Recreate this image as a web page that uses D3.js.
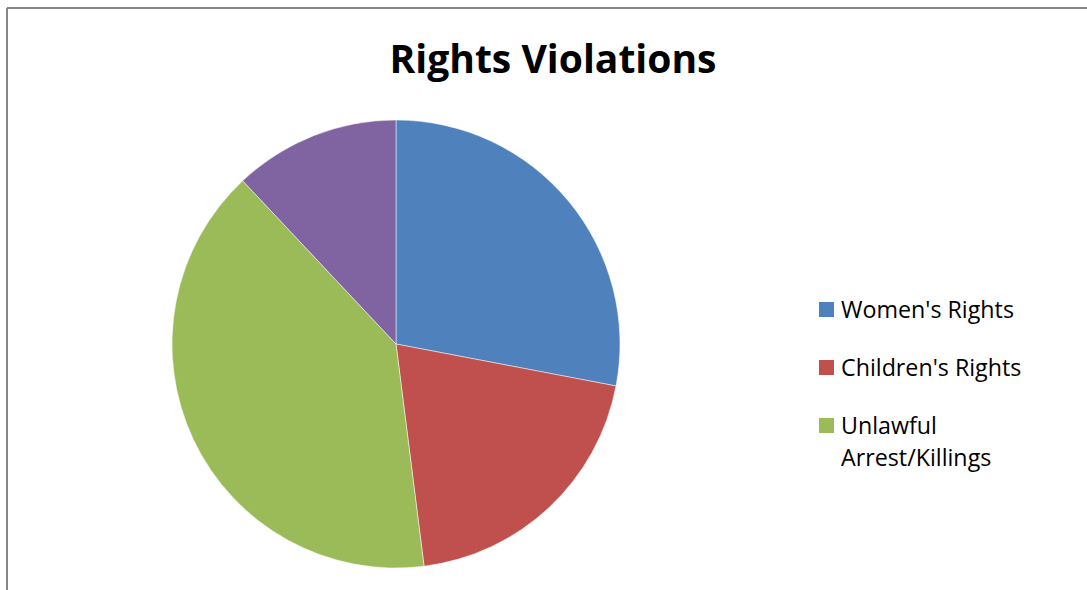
<!DOCTYPE html>
<html><head><meta charset="utf-8">
<script src="https://cdn.jsdelivr.net/npm/d3@7"></script>
<style>body{margin:0;background:#fff}svg{display:block}</style>
</head><body>
<svg id="c" width="1087" height="590"></svg>
<script>
const categories = ["Women's Rights", "Children's Rights", "Unlawful Arrest/Killings", "Other"];
const values = [28, 20, 40, 12];
const colors = ["#4F81BD", "#C0504D", "#9BBB59", "#8064A2"];
const legendLines = [["Women's Rights"], ["Children's Rights"], ["Unlawful", "Arrest/Killings"]];
const title = "Rights Violations";

const svg = d3.select("#c");
const font = "'Open Sans', Lato, sans-serif";

function fitWidth(sel, target) {
  const w = sel.node().getComputedTextLength();
  const fs = parseFloat(sel.attr("font-size"));
  sel.attr("font-size", (fs * target / w).toFixed(2));
}

// frame
svg.append("line").attr("x1", 7).attr("y1", 8).attr("x2", 1087).attr("y2", 8)
  .attr("stroke", "#868686").attr("stroke-width", 2);
svg.append("line").attr("x1", 7).attr("y1", 8).attr("x2", 7).attr("y2", 590)
  .attr("stroke", "#868686").attr("stroke-width", 2);

const t = svg.append("text").attr("x", 553).attr("y", 73).attr("text-anchor", "middle")
  .attr("font-family", font).attr("font-weight", "bold").attr("font-size", 36)
  .attr("fill", "#000").text(title);
fitWidth(t, 327);

const data = categories.map((c, i) => ({c, v: values[i], col: colors[i]}));
const pie = d3.pie().sort(null).value(d => d.v);
const arc = d3.arc().innerRadius(0).outerRadius(224);
const g = svg.append("g").attr("transform", "translate(396,344)");
g.selectAll("path").data(pie(data)).join("path")
  .attr("d", arc).attr("fill", d => d.data.col)
  .attr("stroke", "#fff").attr("stroke-width", 0.5);

const lg = svg.append("g");
const legY = d3.scaleLinear().domain([0, 1]).range([302, 360]);
// size legend font so first label spans ~173px
const probe = lg.append("text").attr("font-family", font).attr("font-size", 20).text(legendLines[0][0]);
fitWidth(probe, 173);
const lfs = probe.attr("font-size");
probe.remove();
legendLines.forEach((lines, i) => {
  const y = legY(i);
  lg.append("rect").attr("x", 819).attr("y", y).attr("width", 15).attr("height", 15).attr("fill", colors[i]);
  lines.forEach((tx, j) => {
    lg.append("text").attr("x", 841).attr("y", y + 16 + j * 32)
      .attr("font-family", font).attr("font-size", lfs).attr("fill", "#000").text(tx);
  });
});
</script>
</body></html>
